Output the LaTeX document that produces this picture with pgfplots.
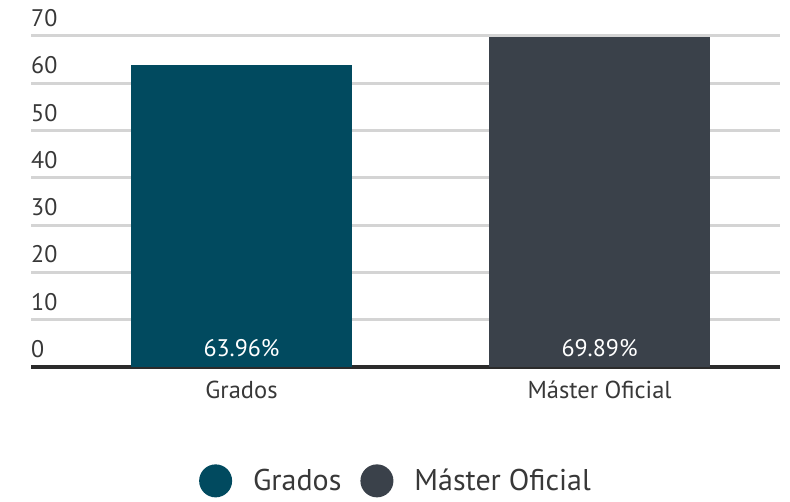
\documentclass[border=0pt]{standalone}
\usepackage{fontspec}
\setmainfont{PT Sans}
\usepackage{pgfplots}
\pgfplotsset{compat=1.18}
\definecolor{cGrad}{HTML}{014A5F}
\definecolor{cMast}{HTML}{3A414A}
\definecolor{cGrid}{HTML}{D4D4D4}
\definecolor{cText}{HTML}{383838}
\definecolor{cBase}{HTML}{2B2B2B}

\begin{document}
\begin{tikzpicture}
\path[use as bounding box] (0,0) rectangle (790pt,501pt);
\begin{axis}[
  at={(31pt,134pt)}, anchor=south west,
  scale only axis, width=749pt, height=331pt,
  xmin=-0.588, xmax=1.504, ymin=0, ymax=70,
  axis x line*=bottom, axis y line*=left,
  x axis line style={-, line width=4pt, color=cBase},
  y axis line style={draw=none},
  major tick length=0pt, tick style={draw=none},
  ytick={0,10,...,70},
  ymajorgrids, grid style={cGrid, line width=3pt},
  xtick={0,1}, xticklabels={Grados, Máster Oficial},
  /pgf/number format/assume math mode=true,
  yticklabel style={anchor=south west, inner sep=0pt, yshift=9pt,
    font=\fontsize{24}{28}\selectfont, text=cText},
  xticklabel style={anchor=north, inner sep=0pt, yshift=-14pt,
    font=\fontsize{24.5}{28}\selectfont, text=cText},
  legend style={at={(0.486,-0.344)}, anchor=center, draw=none, fill=none,
    font=\fontsize{30}{34}\selectfont, text=cText,
    nodes={inner sep=0pt},
    /tikz/every odd column/.append style={column sep=21pt},
    /tikz/every even column/.append style={column sep=19pt}},
  legend columns=-1, legend cell align=left,
]
\addplot[ybar, bar width=221pt, bar shift=0pt, fill=cGrad, draw=none,
  legend image code/.code={\fill[cGrad] (16.5pt,0pt) circle (16.5pt);}]
  coordinates {(0,63.96)};
\addlegendentry{Grados}
\addplot[ybar, bar width=221pt, bar shift=0pt, fill=cMast, draw=none,
  legend image code/.code={\fill[cMast] (16.5pt,0pt) circle (16.5pt);}]
  coordinates {(1,69.89)};
\addlegendentry{Máster Oficial}
\addplot[draw=none, forget plot, nodes near coords, point meta=explicit symbolic,
  nodes near coords style={anchor=south, inner sep=0pt, yshift=10pt, white,
    font=\fontsize{24}{28}\selectfont}]
  coordinates {(0,0) [63.96\%] (1,0) [69.89\%]};
\end{axis}
\end{tikzpicture}
\end{document}
